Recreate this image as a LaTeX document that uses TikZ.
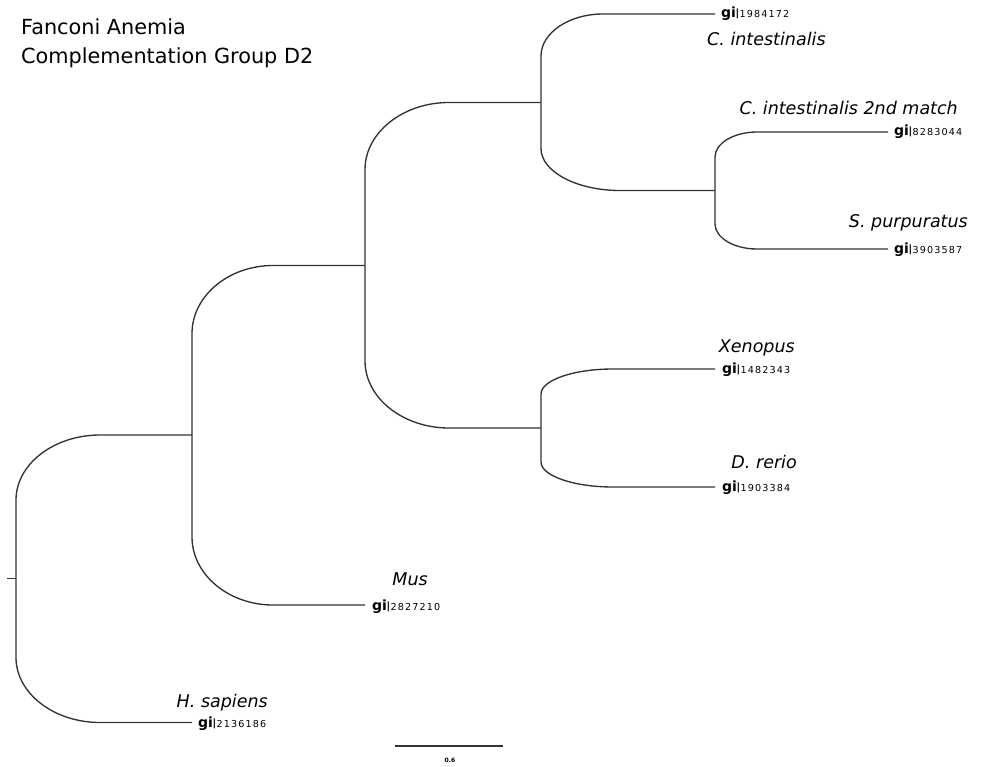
\documentclass[tikz,border=0pt]{standalone}
\usepackage{fontspec}
\setmainfont{DejaVu Sans}
\newfontfamily\gidigits[LetterSpace=12]{DejaVu Sans}
\usetikzlibrary{calc}

% accession tag: bold "gi", a bar, then small spaced digits
\newcommand\gitag[1]{{\fontsize{14}{14}\selectfont\bfseries gi\kern-0.5pt\raisebox{1pt}{\fontsize{10}{10}\selectfont|}}\kern0.5pt{\gidigits\fontsize{9.6}{10}\selectfont #1}}

\tikzset{
  rv/.store in=\elbowrv, rh/.store in=\elbowrh, rv=40, rh=60,
  branch/.style={draw=black!80, line width=1.35pt},
  % vertical run from the parent, rounded corner, then horizontal run to the child
  elbow/.style={to path={
    let \p1=(\tikztostart), \p2=(\tikztotarget),
        \n1={ifthenelse(\y2>\y1,1,-1)} in
    -- (\x1,{\y2-\n1*\elbowrv pt})
    .. controls (\x1,{\y2-0.45*\n1*\elbowrv pt}) and ({\x1+0.45*\elbowrh pt},\y2) ..
    ({\x1+\elbowrh pt},\y2) -- (\tikztotarget)}},
  species/.style={font=\fontsize{17.5}{20}\selectfont\itshape, inner sep=0pt, anchor=base east},
  gilabel/.style={inner sep=0pt, anchor=base west},
  titletext/.style={font=\fontsize{20.8}{25}\selectfont, inner sep=0pt, anchor=base west},
}

\begin{document}
\begin{tikzpicture}[x=1pt, y=-1pt]
\useasboundingbox (0,0) rectangle (984,767);

% title
\node[titletext] (title1) at (21,35) {Fanconi Anemia};
\node[titletext] (title2) at (21,64) {Complementation Group D2};

% internal nodes
\coordinate (roottip) at (7,578.5);
\coordinate (root) at (16,578.5);
\coordinate (nA) at (192,435);
\coordinate (nB) at (365,265.5);
\coordinate (nC) at (541,102.5);
\coordinate (nD) at (715,190.5);
\coordinate (nE) at (541,428);

% leaf ends
\coordinate (lCi) at (715,14);
\coordinate (lCi2) at (888,132);
\coordinate (lSp) at (888,249);
\coordinate (lXe) at (715,369);
\coordinate (lDr) at (715,487);
\coordinate (lMus) at (365,605);
\coordinate (lHs) at (192,722.5);

% branches
\draw[branch] (roottip) -- (root);
\draw[branch, rh=84, rv=65] (root) to[elbow] (nA);
\draw[branch, rh=84, rv=65] (root) to[elbow] (lHs);
\draw[branch, rh=81, rv=68] (nA) to[elbow] (nB);
\draw[branch, rh=81, rv=68] (nA) to[elbow] (lMus);
\draw[branch, rh=84, rv=67] (nB) to[elbow] (nC);
\draw[branch, rh=84, rv=67] (nB) to[elbow] (nE);
\draw[branch, rh=62, rv=42] (nC) to[elbow] (lCi);
\draw[branch, rh=79, rv=42] (nC) to[elbow] (nD);
\draw[branch, rh=42, rv=25] (nD) to[elbow] (lCi2);
\draw[branch, rh=42, rv=25] (nD) to[elbow] (lSp);
\draw[branch, rh=72, rv=25] (nE) to[elbow] (lXe);
\draw[branch, rh=72, rv=25] (nE) to[elbow] (lDr);

% accession tags
\node[gilabel] (gCi)  at ($(lCi)+(6,4)$)  {\gitag{1984172}};
\node[gilabel] (gCi2) at ($(lCi2)+(6,4)$) {\gitag{8283044}};
\node[gilabel] (gSp)  at ($(lSp)+(6,4)$)  {\gitag{3903587}};
\node[gilabel] (gXe)  at ($(lXe)+(7,4)$)  {\gitag{1482343}};
\node[gilabel] (gDr)  at ($(lDr)+(7,4)$)  {\gitag{1903384}};
\node[gilabel] (gMus) at ($(lMus)+(7,5)$) {\gitag{2827210}};
\node[gilabel] (gHs)  at ($(lHs)+(6,5)$)  {\gitag{2136186}};

% species names
\node[species, anchor=base west] (sCi) at (707,46) {C. intestinalis};
\node[species] (sCi2) at (958,115) {C. intestinalis 2nd match};
\node[species] (sSp)  at (968,228) {S. purpuratus};
\node[species] (sXe)  at (795,352) {Xenopus};
\node[species] (sDr)  at (797,468) {D. rerio};
\node[species] (sMus) at (428,585) {Mus};
\node[species] (sHs)  at (268,707) {H. sapiens};

% scale bar
\coordinate (sbL) at (395,746);
\coordinate (sbR) at (503,746);
\draw[branch] (sbL) -- (sbR);
\node[font=\fontsize{6}{6}\selectfont\bfseries, inner sep=0pt] (sbtext) at (450,760) {0.6};
\end{tikzpicture}
\end{document}
